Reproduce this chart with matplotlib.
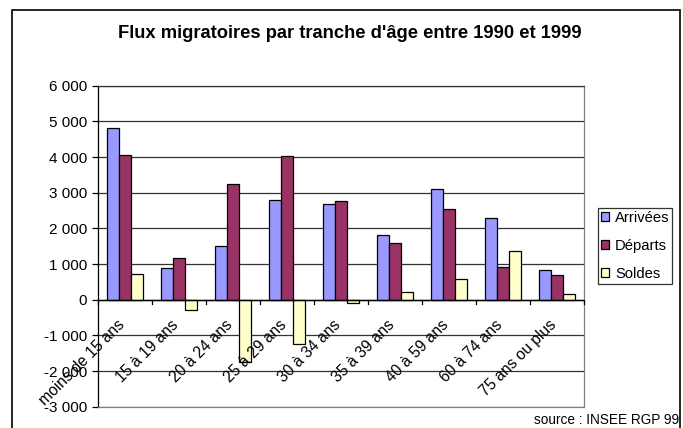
import matplotlib
matplotlib.use("Agg")
import matplotlib.pyplot as plt
import numpy as np
from matplotlib.patches import Rectangle

plt.rcParams['font.family'] = ['Liberation Sans', 'DejaVu Sans']

categories = ["moins de 15 ans", "15 à 19 ans", "20 à 24 ans", "25 à 29 ans",
              "30 à 34 ans", "35 à 39 ans", "40 à 59 ans", "60 à 74 ans",
              "75 ans ou plus"]
arrivees = [4820, 890, 1510, 2800, 2670, 1810, 3110, 2290, 820]
departs = [4060, 1160, 3250, 4030, 2760, 1600, 2530, 920, 680]
soldes = [720, -280, -1750, -1240, -95, 205, 585, 1360, 170]
series_names = ["Arrivées", "Départs", "Soldes"]
yticks = list(range(-3000, 6001, 1000))
ytick_labels = ["-3 000", "-2 000", "-1 000", "0", "1 000", "2 000", "3 000",
                "4 000", "5 000", "6 000"]
title = "Flux migratoires par tranche d'âge entre 1990 et 1999"
source = "source : INSEE RGP 99"

colors = ["#9999FF", "#993366", "#FFFFCC"]

W, H = 683, 428
fig = plt.figure(figsize=(W / 100, H / 100), dpi=100)
ax = fig.add_axes([98 / W, 1 - 406.7 / H, (584 - 98) / W, (406.7 - 85.7) / H])

x = np.arange(len(categories))
bw = 0.217
for k, (vals, name, c) in enumerate(zip([arrivees, departs, soldes], series_names, colors)):
    ax.bar(x + (k - 1) * bw, vals, width=bw, color=c, edgecolor="black",
           linewidth=0.9, label=name, zorder=3)

ax.set_xlim(-0.5, len(categories) - 0.5)
ax.set_ylim(-3000, 6000)
ax.set_yticks(yticks)
ax.set_yticklabels(ytick_labels, fontsize=11)
ax.yaxis.grid(True, color="#333333", linewidth=0.9, zorder=0)
ax.set_axisbelow(True)
ax.tick_params(axis="y", direction="out", length=4, width=0.9, color="black", pad=4)

# x axis at zero
ax.set_xticks([])
ax.axhline(0, color="black", linewidth=1.0, zorder=4)
for b in np.arange(-0.5, len(categories) + 0.5, 1.0):
    ax.plot([b, b], [0, -120], color="black", linewidth=0.9, zorder=4, clip_on=False)

for i, lab in enumerate(categories):
    ax.text(i - 0.15, -500, lab, rotation=45, rotation_mode="anchor",
            ha="right", va="top", fontsize=11.2, zorder=5)

ax.spines["top"].set_color("#333333")
ax.spines["right"].set_color("#808080")
ax.spines["bottom"].set_color("#808080")
ax.spines["left"].set_color("black")
for s in ax.spines.values():
    s.set_linewidth(0.9)

leg = ax.legend(loc="upper left", bbox_to_anchor=(598 / W, 1 - 208 / H),
                bbox_transform=fig.transFigure, fontsize=10.6, frameon=True,
                fancybox=False, edgecolor="black", handlelength=0.55,
                handleheight=0.55, handletextpad=0.4, borderpad=0.2,
                labelspacing=0.95, borderaxespad=0)
leg.get_frame().set_linewidth(0.9)

fig.text(350 / W, 1 - 34 / H, title, ha="center", va="center", fontsize=13.2,
         fontweight="bold")
fig.text(679 / W, 1 - 420 / H, source, ha="right", va="center", fontsize=9.8)

fig.patches.append(Rectangle((12 / W, -0.05), (680 - 12) / W, 1 - 10 / H + 0.05,
                             transform=fig.transFigure, fill=False,
                             edgecolor="black", linewidth=1.2))

fig.savefig("out.png", dpi=100, facecolor="white")
